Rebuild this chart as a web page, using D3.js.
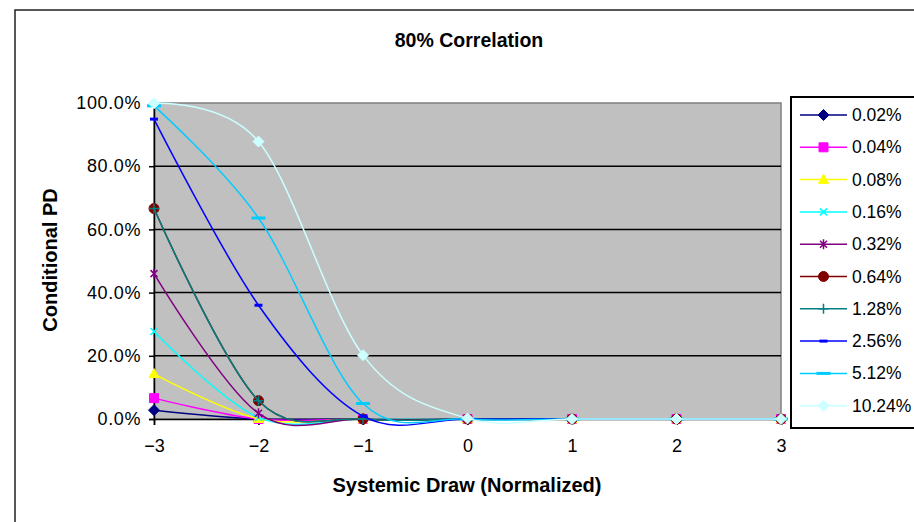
<!DOCTYPE html>
<html>
<head>
<meta charset="utf-8">
<script src="https://cdn.jsdelivr.net/npm/d3@7"></script>
<style>
  html, body { margin: 0; padding: 0; background: #fff; }
  svg { display: block; }
  text { font-family: "Liberation Sans", Arial, sans-serif; fill: #000; }
</style>
</head>
<body>
<svg id="chart" width="914" height="522"></svg>
<script>
// Systemic draw (normalized factor value) on the x axis
const systemicDraws = [-3, -2, -1, 0, 1, 2, 3];

// Unconditional PD of each series (legend labels)
const seriesLabels = ["0.02%", "0.04%", "0.08%", "0.16%", "0.32%", "0.64%", "1.28%", "2.56%", "5.12%", "10.24%"];

// Conditional PD (%) at each systemic draw, one array per series
const pd0002 = [2.8, 0.0, 0.0, 0.0, 0.0, 0.0, 0.0];
const pd0004 = [6.6, 0.0, 0.0, 0.0, 0.0, 0.0, 0.0];
const pd0008 = [14.3, 0.1, 0.0, 0.0, 0.0, 0.0, 0.0];
const pd0016 = [27.7, 0.5, 0.0, 0.0, 0.0, 0.0, 0.0];
const pd0032 = [46.0, 1.8, 0.0, 0.0, 0.0, 0.0, 0.0];
const pd0064 = [66.6, 5.8, 0.0, 0.0, 0.0, 0.0, 0.0];
const pd0128 = [66.6, 5.8, 0.0, 0.0, 0.0, 0.0, 0.0];
const pd0256 = [94.9, 36.0, 0.9, 0.0, 0.0, 0.0, 0.0];
const pd0512 = [99.1, 63.6, 4.9, 0.0, 0.0, 0.0, 0.0];
const pd1024 = [99.9, 87.8, 20.2, 0.2, 0.0, 0.0, 0.0];
const seriesValues = [pd0002, pd0004, pd0008, pd0016, pd0032, pd0064, pd0128, pd0256, pd0512, pd1024];

// Y axis ticks (%)
const yTicks = [0, 20, 40, 60, 80, 100];

// Series styling
const seriesColors = ["#000080", "#FF00FF", "#FFFF00", "#00FFFF", "#800080", "#800000", "#008080", "#0000FF", "#00CCFF", "#CCFFFF"];
const seriesMarkers = ["diamond", "square", "triangle", "x", "star", "circle", "plus", "dash", "longdash", "diamond"];

const svg = d3.select("#chart");

// Outer chart frame
svg.append("rect")
  .attr("x", 15).attr("y", 10)
  .attr("width", 1000).attr("height", 600)
  .attr("fill", "#fff").attr("stroke", "#222").attr("stroke-width", 1.5);

const plot = { left: 154, right: 781, top: 103, bottom: 419 };

const x = d3.scaleLinear().domain([-3, 3]).range([plot.left, plot.right]);
const y = d3.scaleLinear().domain([0, 100]).range([plot.bottom, plot.top]);

// Plot area background and border
svg.append("rect")
  .attr("x", plot.left).attr("y", plot.top)
  .attr("width", plot.right - plot.left).attr("height", plot.bottom - plot.top)
  .attr("fill", "#C0C0C0").attr("stroke", "#808080").attr("stroke-width", 1.5);

// Horizontal gridlines
svg.append("g")
  .selectAll("line")
  .data(yTicks.filter(d => d > 0 && d < 100))
  .join("line")
  .attr("x1", plot.left).attr("x2", plot.right)
  .attr("y1", d => y(d)).attr("y2", d => y(d))
  .attr("stroke", "#000").attr("stroke-width", 1.5);

// Y axis
const yAxis = d3.axisLeft(y)
  .tickValues(yTicks)
  .tickFormat(d => d3.format(".1f")(d) + "%")
  .tickSize(5)
  .tickPadding(8);
const gy = svg.append("g").attr("transform", `translate(${plot.left},0)`).call(yAxis);
gy.select(".domain").attr("stroke", "#000").attr("stroke-width", 1.5);
gy.selectAll(".tick line").attr("stroke", "#000").attr("stroke-width", 1.5);
gy.selectAll(".tick text")
  .style("font-family", '"Liberation Sans", Arial, sans-serif')
  .style("font-size", "18px").style("letter-spacing", "0.6px").attr("fill", "#000");

// X axis
const xAxis = d3.axisBottom(x)
  .tickValues(systemicDraws)
  .tickFormat(d3.format("d"))
  .tickSize(6)
  .tickPadding(14);
const gx = svg.append("g").attr("transform", `translate(0,${plot.bottom})`).call(xAxis);
gx.select(".domain").attr("stroke", "#000").attr("stroke-width", 1.5);
gx.selectAll(".tick line").attr("stroke", "#000").attr("stroke-width", 1.5);
gx.selectAll(".tick text")
  .style("font-family", '"Liberation Sans", Arial, sans-serif')
  .style("font-size", "18px").attr("fill", "#000");

// Marker shapes
function markerPath(type, s) {
  switch (type) {
    case "diamond": return `M0,${-s}L${s},0L0,${s}L${-s},0Z`;
    case "square": return `M${-s * 0.9},${-s * 0.9}h${s * 1.8}v${s * 1.8}h${-s * 1.8}Z`;
    case "triangle": return `M0,${-s * 1.05}L${s},${s * 0.75}L${-s},${s * 0.75}Z`;
    case "x": { const k = s * 0.7; return `M${-k},${-k}L${k},${k}M${-k},${k}L${k},${-k}`; }
    case "star": { const k = s * 0.7; return `M${-k},${-k}L${k},${k}M${-k},${k}L${k},${-k}M0,${-s}L0,${s}`; }
    case "plus": return `M${-s},0L${s},0M0,${-s}L0,${s}`;
    default: return "";
  }
}

function drawMarker(g, type, color, cx, cy) {
  if (type === "circle") {
    g.append("circle").attr("cx", cx).attr("cy", cy).attr("r", 5)
      .attr("fill", color).attr("stroke", color);
  } else if (type === "dash") {
    g.append("rect").attr("x", cx - 4).attr("y", cy - 1.5).attr("width", 8).attr("height", 3)
      .attr("fill", color);
  } else if (type === "longdash") {
    g.append("rect").attr("x", cx - 7).attr("y", cy - 1.5).attr("width", 14).attr("height", 3)
      .attr("fill", color);
  } else {
    const open = (type === "x" || type === "star" || type === "plus");
    g.append("path")
      .attr("transform", `translate(${cx},${cy})`)
      .attr("d", markerPath(type, type === "diamond" ? 5.5 : 5))
      .attr("fill", open ? "none" : color)
      .attr("stroke", color)
      .attr("stroke-width", open ? 1.5 : 1);
  }
}

// Smoothed series lines with markers
const line = d3.line()
  .x(d => x(d.x))
  .y(d => y(d.v))
  .curve(d3.curveCardinal.tension(0));

const seriesG = svg.append("g");
seriesValues.forEach((vals, i) => {
  const pts = vals.map((v, j) => ({ x: systemicDraws[j], v }));
  const g = seriesG.append("g");
  g.append("path")
    .datum(pts)
    .attr("d", line)
    .attr("fill", "none")
    .attr("stroke", seriesColors[i])
    .attr("stroke-width", 1.5);
  pts.forEach(p => drawMarker(g, seriesMarkers[i], seriesColors[i], x(p.x), y(p.v)));
});

// Chart title
svg.append("text")
  .attr("x", 469).attr("y", 40)
  .attr("text-anchor", "middle").attr("dominant-baseline", "central")
  .style("font-size", "19.5px").style("font-weight", "bold")
  .text("80% Correlation");

// Axis titles
svg.append("text")
  .attr("x", 467).attr("y", 485)
  .attr("text-anchor", "middle").attr("dominant-baseline", "central")
  .style("font-size", "20px").style("font-weight", "bold")
  .text("Systemic Draw (Normalized)");

svg.append("text")
  .attr("transform", "translate(50,260) rotate(-90)")
  .attr("text-anchor", "middle").attr("dominant-baseline", "central")
  .style("font-size", "20px").style("font-weight", "bold")
  .text("Conditional PD");

// Legend
const legend = svg.append("g");
legend.append("rect")
  .attr("x", 791).attr("y", 97)
  .attr("width", 200).attr("height", 331)
  .attr("fill", "#fff").attr("stroke", "#000").attr("stroke-width", 2);

seriesLabels.forEach((lab, i) => {
  const ly = 115 + i * 32.3;
  const g = legend.append("g");
  g.append("line")
    .attr("x1", 800).attr("x2", 847)
    .attr("y1", ly).attr("y2", ly)
    .attr("stroke", seriesColors[i]).attr("stroke-width", 1.5);
  drawMarker(g, seriesMarkers[i], seriesColors[i], 823.5, ly);
  g.append("text")
    .attr("x", 852).attr("y", ly)
    .attr("dominant-baseline", "central")
    .style("font-size", "17.5px")
    .text(lab);
});
</script>
</body>
</html>
